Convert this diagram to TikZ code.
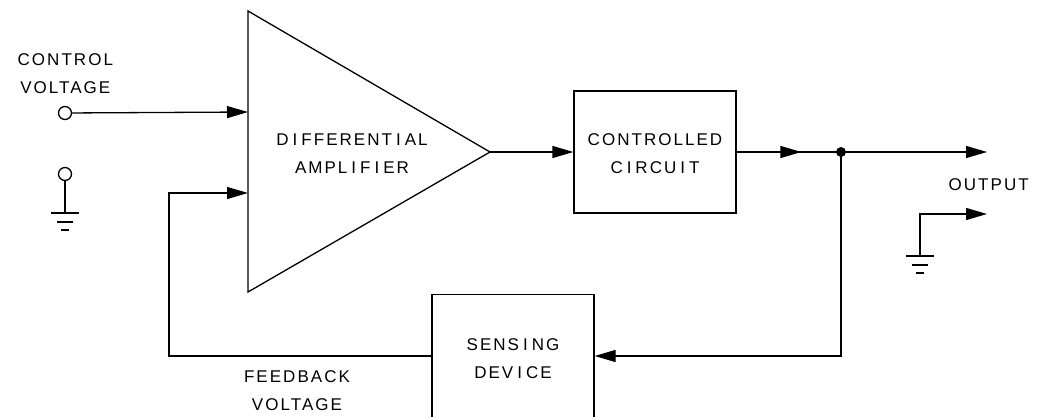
\documentclass[tikz,border=0pt]{standalone}
\usepackage{fontspec}
\setmainfont{Liberation Sans}[LetterSpace=12]
\usetikzlibrary{arrows.meta,decorations.markings}
% the letter I in this lettering style sits in a wider cell
\newcommand\wI{\hspace{4pt}I\hspace{4pt}}
\begin{document}
\begin{tikzpicture}[x=1pt,y=-1pt,
  line width=1.3pt,
  tip/.tip={Triangle[length=21pt,width=12pt]},
  flow/.style={-tip},
  midflow/.style={postaction={decorate},decoration={markings,
      mark=at position #1 with {\arrow{tip}}}},
  box/.style={draw,minimum width=162pt,inner sep=0pt},
  lbl/.style={font=\fontsize{17}{28}\selectfont,align=center,inner sep=0pt},
  term/.style={draw,circle,minimum size=13pt,inner sep=0pt,fill=white}
]
\clip (0,0) rectangle (1040,417);

% differential amplifier
\coordinate (ampTop) at (248,11);
\coordinate (ampBot) at (248,292);
\coordinate (ampOut) at (490,152);
\coordinate (inA) at (248,112);
\coordinate (inB) at (248,193);
\draw[line join=miter] (ampTop) -- (ampOut) -- (ampBot) -- cycle;
\node[lbl] (amplbl) at (352,154) {D\wI FFERENT\wI AL\\AMPL\wI F\wI ER};

% controlled circuit and sensing device
\node[box,minimum height=122pt] (ctrl) at (655,152) {};
\node[lbl] at (655,154) {CONTROLLED\\C\wI RCU\wI T};
\node[box,minimum height=150pt,anchor=north] (sense) at (513,294) {};
\node[lbl] at (513,359) {SENS\wI NG\\DEV\wI CE};

% control voltage input
\node[term] (cv) at (65,113) {};
\node[lbl,anchor=west] (cvlbl) at (17,74) {CONTROL\\VOLTAGE};
\draw[flow] (cv) -- (inA);

% reference terminal with ground
\node[term] (ref) at (65,174) {};
\coordinate (refGnd) at (65,213);
\draw (ref) -- (refGnd);
\draw (refGnd) ++(-14,0) -- ++(28,0);
\draw (refGnd) ++(-8,9) -- ++(16,0);
\draw (refGnd) ++(-4,17) -- ++(8,0);

% forward path
\draw[flow] (ampOut) -- (ctrl.west);
\coordinate (junc) at (841,152);
\coordinate (outA) at (987,152);
\draw[midflow=0.62] (ctrl.east) -- (junc);
\draw[flow] (junc) -- (outA);
\fill (junc) circle (5pt);

% output ground return
\coordinate (outGnd) at (920,256);
\coordinate (outB) at (987,214);
\draw[flow] (outGnd) |- (outB);
\draw (outGnd) ++(-14,0) -- ++(28,0);
\draw (outGnd) ++(-8,9) -- ++(16,0);
\draw (outGnd) ++(-4,17) -- ++(8,0);
\node[lbl,anchor=west] (outlbl) at (948,185) {OUTPUT};

% feedback loop
\coordinate (fbCorner) at (841,356);
\draw[flow] (junc) -- (fbCorner) -- (sense.east |- fbCorner);
\coordinate (fbLeft) at (169,356);
\draw[flow] (sense.west |- fbLeft) -- (fbLeft) |- (inB);
\node[lbl] (fblbl) at (297,391) {FEEDBACK\\VOLTAGE};
\end{tikzpicture}
\end{document}
